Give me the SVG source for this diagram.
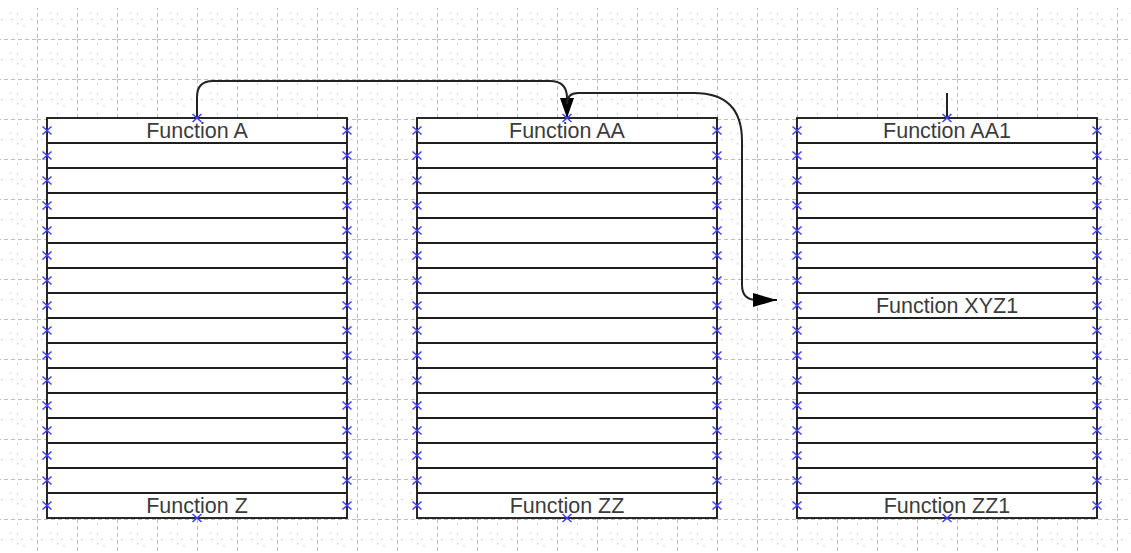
<svg xmlns="http://www.w3.org/2000/svg" width="1131" height="553" viewBox="0 0 1131 553">
  <style>
    .box { fill: #ffffff; stroke: #1e1e1e; stroke-width: 1.9; }
    .row { stroke: #1e1e1e; stroke-width: 1.9; }
    .lbl { font-family: "Liberation Sans", Arial, sans-serif; font-size: 21.5px; fill: #3c3c3c; text-anchor: middle; }
    .mk { stroke: #3d3dff; stroke-width: 1.5; fill: none; }
    .conn { fill: none; stroke: #222222; stroke-width: 2; }
  </style>
  <defs>
    <pattern id="grid" patternUnits="userSpaceOnUse" x="37" y="39" width="40" height="40">
      <line x1="0.5" y1="0" x2="0.5" y2="40" stroke="#bdbdbd" stroke-width="1" stroke-dasharray="4,3"/>
      <line x1="0" y1="0.5" x2="40" y2="0.5" stroke="#bdbdbd" stroke-width="1" stroke-dasharray="4,3"/>
      <line x1="20.5" y1="0" x2="20.5" y2="40" stroke="#c8c8c8" stroke-width="1" stroke-dasharray="1.5,8.5" stroke-dashoffset="-4"/>
      <line x1="0" y1="20.5" x2="40" y2="20.5" stroke="#c8c8c8" stroke-width="1" stroke-dasharray="1.5,8.5" stroke-dashoffset="-4"/>
      <circle cx="14" cy="14" r="0.7" fill="#c8c8c8"/>
      <circle cx="27" cy="27" r="0.7" fill="#c8c8c8"/>
    </pattern>
    <g id="x">
      <path class="mk" d="M-4.5,-4 L4.5,4 M-4.5,4 L4.5,-4"/>
    </g>
    <g id="rows">
      <rect class="box" x="0" y="0" width="300" height="400"/>
      <path class="row" d="M0,25H300 M0,50H300 M0,75H300 M0,100H300 M0,125H300 M0,150H300 M0,175H300 M0,200H300 M0,225H300 M0,250H300 M0,275H300 M0,300H300 M0,325H300 M0,350H300 M0,375H300"/>
    </g>
    <g id="marks">
      <use href="#x" x="0" y="12.5"/><use href="#x" x="0" y="37.5"/><use href="#x" x="0" y="62.5"/><use href="#x" x="0" y="87.5"/>
      <use href="#x" x="0" y="112.5"/><use href="#x" x="0" y="137.5"/><use href="#x" x="0" y="162.5"/><use href="#x" x="0" y="187.5"/>
      <use href="#x" x="0" y="212.5"/><use href="#x" x="0" y="237.5"/><use href="#x" x="0" y="262.5"/><use href="#x" x="0" y="287.5"/>
      <use href="#x" x="0" y="312.5"/><use href="#x" x="0" y="337.5"/><use href="#x" x="0" y="362.5"/><use href="#x" x="0" y="387.5"/>
      <use href="#x" x="300" y="12.5"/><use href="#x" x="300" y="37.5"/><use href="#x" x="300" y="62.5"/><use href="#x" x="300" y="87.5"/>
      <use href="#x" x="300" y="112.5"/><use href="#x" x="300" y="137.5"/><use href="#x" x="300" y="162.5"/><use href="#x" x="300" y="187.5"/>
      <use href="#x" x="300" y="212.5"/><use href="#x" x="300" y="237.5"/><use href="#x" x="300" y="262.5"/><use href="#x" x="300" y="287.5"/>
      <use href="#x" x="300" y="312.5"/><use href="#x" x="300" y="337.5"/><use href="#x" x="300" y="362.5"/><use href="#x" x="300" y="387.5"/>
      <use href="#x" x="150" y="0"/><use href="#x" x="150" y="400"/>
    </g>
    <marker id="arrS" markerUnits="userSpaceOnUse" markerWidth="20" markerHeight="14" refX="19" refY="7" orient="auto" viewBox="0 0 20 14">
      <path d="M0,0 L20,7 L0,14 Z" fill="#000"/>
    </marker>
    <marker id="arrL" markerUnits="userSpaceOnUse" markerWidth="24" markerHeight="14" refX="24" refY="7" orient="auto" viewBox="0 0 24 14">
      <path d="M0,0 L24,7 L0,14 Z" fill="#000"/>
    </marker>
  </defs>

  <rect x="0" y="0" width="1131" height="553" fill="#ffffff"/>
  <rect x="0" y="8" width="1131" height="545" fill="url(#grid)"/>

  <g id="node-left">
    <use href="#rows" x="47" y="118"/>
    <text class="lbl" x="197" y="137.5">Function A</text>
    <text class="lbl" x="197" y="512.5">Function Z</text>
  </g>

  <g id="node-middle">
    <use href="#rows" x="417" y="118"/>
    <text class="lbl" x="567" y="137.5">Function AA</text>
    <text class="lbl" x="567" y="512.5">Function ZZ</text>
  </g>

  <g id="node-right">
    <use href="#rows" x="797" y="118"/>
    <text class="lbl" x="947" y="137.5">Function AA1</text>
    <text class="lbl" x="947" y="312.5">Function XYZ1</text>
    <text class="lbl" x="947" y="512.5">Function ZZ1</text>
  </g>

  <g id="connectors">
    <path class="conn" d="M197,118 V97 Q197,81 213,81 H550 Q567,81 567,98 V117" marker-end="url(#arrS)"/>
    <path class="conn" d="M567,104 Q567,93 578,93 H694 Q742,93 742,141 V285 Q742,300 757,300 H777" marker-end="url(#arrL)"/>
    <path class="conn" d="M947,93 V118"/>
  </g>

  <g id="markers">
    <use href="#marks" x="47" y="118"/>
    <use href="#marks" x="417" y="118"/>
    <use href="#marks" x="797" y="118"/>
  </g>
</svg>
